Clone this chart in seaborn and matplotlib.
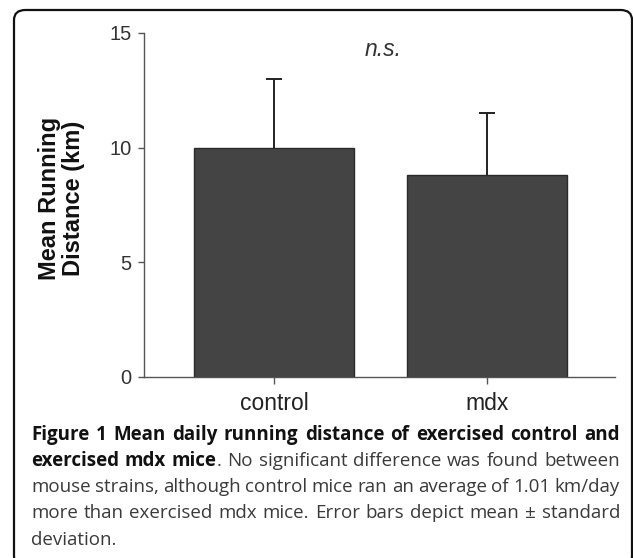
import matplotlib
matplotlib.use("Agg")
import matplotlib.pyplot as plt
from matplotlib.patches import FancyBboxPatch
import seaborn as sns
import pandas as pd

# data
groups = ["control", "mdx"]
mean_km = [10.0, 8.8]
sd_km = [3.0, 2.7]
y_ticks = [0, 5, 10, 15]
y_label = "Mean Running\nDistance (km)"
sig_label = "n.s."

# caption, one entry per printed line; "|" marks where the bold part ends
caption_lines = [
    "Figure 1 Mean daily running distance of exercised control and",
    "exercised mdx mice|. No significant difference was found between",
    "mouse strains, although control mice ran an average of 1.01 km/day",
    "more than exercised mdx mice. Error bars depict mean \u00b1 standard",
    "deviation.",
]

W, H = 633, 558
CAP_FONT = "Open Sans"


def caption_words():
    """split caption into lines of words, each word a list of (text, weight)"""
    out = []
    bold_left = True
    for line in caption_lines:
        words = []
        for w in line.split(" "):
            pieces = []
            if "|" in w:
                a, b = w.split("|")
                pieces.append((a, "bold" if bold_left else "normal"))
                bold_left = False
                pieces.append((b, "normal"))
            else:
                pieces.append((w, "bold" if bold_left else "normal"))
            words.append(pieces)
        out.append(words)
    return out


def draw_caption(fig, x0, x1, baselines, size):
    renderer = fig.canvas.get_renderer()
    lines = caption_words()
    for i, (words, base) in enumerate(zip(lines, baselines)):
        y = 1 - base / H
        items = []
        total = 0
        for word in words:
            parts = []
            for txt, wt in word:
                t = fig.text(0, y, txt, fontsize=size, fontweight=wt,
                             family=CAP_FONT, va="baseline", ha="left",
                             color="#111111" if wt == "bold" else "#3a3a3a")
                wpx = t.get_window_extent(renderer).width
                parts.append((t, wpx))
                total += wpx
            items.append(parts)
        if i == len(lines) - 1:
            gap = size * 100 / 72 * 0.26
        else:
            gap = (x1 - x0 - total) / (len(items) - 1)
        x = x0
        for parts in items:
            for t, wpx in parts:
                t.set_x(x / W)
                x += wpx
            x += gap


fig = plt.figure(figsize=(W / 100, H / 100), dpi=100)
sns.set_style("ticks")
plt.rcParams["font.family"] = ["Liberation Sans", "DejaVu Sans"]

ax = fig.add_axes([144 / W, 1 - 377 / H, (615 - 144) / W, (377 - 33) / H])

df = pd.DataFrame({"group": groups, "mean": mean_km, "sd": sd_km})
sns.barplot(data=df, x="group", y="mean", color="#444444", saturation=1,
            width=0.75, edgecolor="#2a2a2a", linewidth=1, errorbar=None, ax=ax)

# upper error bars only (mean + sd), with a cap at the top
xpos = list(range(len(groups)))
tops = df["mean"] + df["sd"]
ax.vlines(xpos, df["mean"], tops, color="#222222", linewidth=1.4, zorder=2)
ax.plot(xpos, tops, linestyle="none", marker="_", markersize=12,
        markeredgewidth=1.4, color="#222222", zorder=2)

ax.set_xlim(-0.61, 1.6)
ax.set_ylim(0, 15)
ax.set_yticks(y_ticks)
ax.set_xlabel("")
ax.set_ylabel(y_label, fontsize=17, fontweight="bold", color="#111111",
              linespacing=1.05)
ax.yaxis.set_label_coords(-0.125, 0.52)
ax.tick_params(axis="y", length=4, width=1, color="#555555", labelsize=14.5,
               labelcolor="#333333", pad=5)
ax.tick_params(axis="x", length=5, width=1, color="#555555", labelsize=16.5,
               labelcolor="#222222", pad=6)
for s in ["top", "right"]:
    ax.spines[s].set_visible(False)
for s in ["left", "bottom"]:
    ax.spines[s].set_color("#555555")
    ax.spines[s].set_linewidth(1)

ax.text(0.51, 14.3, sig_label, fontsize=16.5, style="italic", color="#333333",
        ha="center", va="center")

# rounded frame around figure and caption
frame = FancyBboxPatch((14 / W, 1 - 566 / H), (632 - 14) / W, (566 - 10) / H,
                       boxstyle="round,pad=0,rounding_size=0.018",
                       transform=fig.transFigure, fill=False,
                       edgecolor="#111111", linewidth=1.6, clip_on=False)
fig.patches.append(frame)

draw_caption(fig, 31, 620, [440, 466, 492, 518, 545], 13.5)

fig.savefig("out.png", dpi=100)
